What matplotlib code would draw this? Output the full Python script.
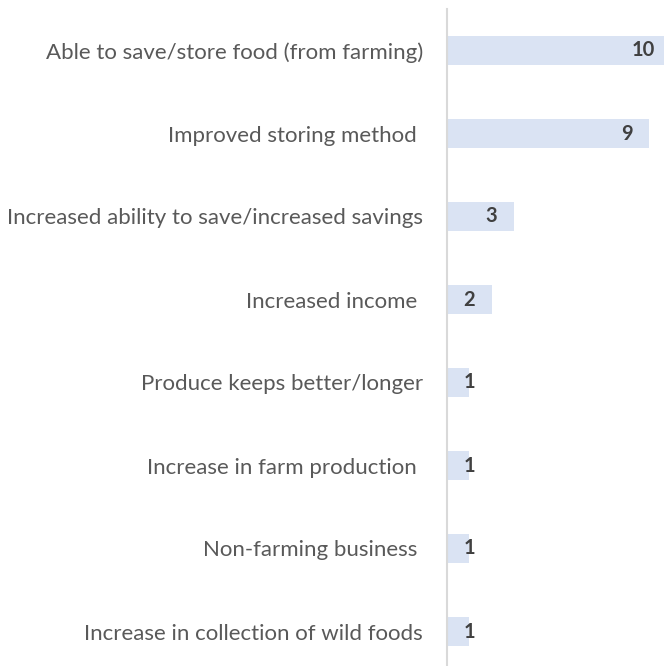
import matplotlib.pyplot as plt

plt.rcParams['font.family'] = ['Lato', 'DejaVu Sans']

categories = [
    'Able to save/store food (from farming)',
    'Improved storing method ',
    'Increased ability to save/increased savings',
    'Increased income ',
    'Produce keeps better/longer',
    'Increase in farm production ',
    'Non-farming business ',
    'Increase in collection of wild foods',
]
counts = [10, 9, 3, 2, 1, 1, 1, 1]

fig = plt.figure(figsize=(6.64, 6.66), dpi=100)
ax = fig.add_axes([446.5 / 664, -7 / 666, 1 - 446.5 / 664, 664 / 666])

ypos = list(range(len(categories)))
ax.barh(ypos, counts, height=0.35, color='#dae3f3')

for y, v in zip(ypos, counts):
    if v >= 2:
        ax.annotate(str(v), (v, y), xytext=(-12, 0), textcoords='offset points',
                    ha='right', va='center', fontsize=14.5, fontweight='bold',
                    color='#404040', annotation_clip=False)
    else:
        ax.annotate(str(v), (v, y), ha='center', va='center', fontsize=14.5,
                    fontweight='bold', color='#404040', annotation_clip=False)

ax.set_ylim(len(categories) - 0.5, -0.5)
ax.set_xlim(0, (664 - 446.5) / 22.5)
ax.set_yticks(ypos)
ax.set_yticklabels(categories, fontsize=16, color='#595959')
ax.tick_params(axis='y', length=0, pad=17)
ax.set_xticks([])

for side in ['top', 'right', 'bottom']:
    ax.spines[side].set_visible(False)
ax.spines['left'].set_color('#d9d9d9')
ax.spines['left'].set_linewidth(1.5)

fig.savefig('out.png', dpi=100)
